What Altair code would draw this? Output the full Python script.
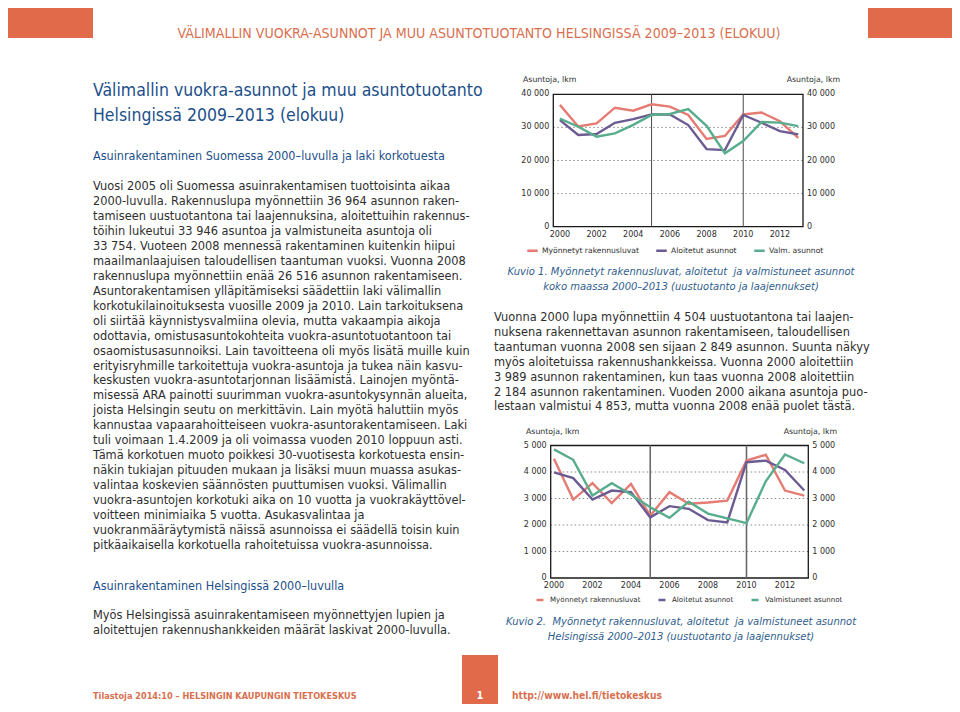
import altair as alt
import pandas as pd

# ---------------- data ----------------
years = list(range(2000, 2014))

fin_series = ["Myönnetyt rakennusluvat", "Aloitetut asunnot", "Valm. asunnot"]
fin_permits = [36800, 30300, 31200, 35950, 35050, 36964, 36300, 33750, 26516, 27400, 33900, 34500, 31850, 26850]
fin_started = [32200, 27700, 28000, 31400, 32500, 33946, 33900, 30700, 23450, 23150, 33750, 31400, 28850, 27900]
fin_completed = [32650, 30200, 27200, 28200, 30750, 33754, 34050, 35550, 30450, 22200, 25900, 31650, 31450, 30400]

hki_series = ["Myönnetyt rakennusluvat", "Aloitetut asunnot", "Valmistuneet asunnot"]
hki_permits = [4504, 2960, 3580, 2830, 3550, 2350, 3240, 2800, 2849, 2920, 4430, 4650, 3300, 3110]
hki_started = [3989, 3770, 2960, 3300, 3240, 2290, 2710, 2610, 2184, 2100, 4370, 4430, 4080, 3300]
hki_completed = [4853, 4460, 3110, 3580, 3150, 2670, 2270, 2880, 2430, 2250, 2070, 3650, 4660, 4330]

fin_grid = [10000, 20000, 30000]
fin_yticks = [0, 10000, 20000, 30000, 40000]
fin_ylabels = ["0", "10 000", "20 000", "30 000", "40 000"]
hki_grid = [1000, 2000, 3000, 4000]
hki_yticks = [0, 1000, 2000, 3000, 4000, 5000]
hki_ylabels = ["0", "1 000", "2 000", "3 000", "4 000", "5 000"]
xticks = [2000, 2002, 2004, 2006, 2008, 2010, 2012]
xlabels = ["2000", "2002", "2004", "2006", "2008", "2010", "2012"]
markers = [2005, 2010]
line_colors = ["#e57b72", "#6c5b93", "#58ad8c"]

header = "VÄLIMALLIN VUOKRA-ASUNNOT JA MUU ASUNTOTUOTANTO HELSINGISSÄ 2009–2013 (ELOKUU)"
title_lines = ["Välimallin vuokra-asunnot ja muu asuntotuotanto", "Helsingissä 2009–2013 (elokuu)"]
subtitle1 = "Asuinrakentaminen Suomessa 2000–luvulla ja laki korkotuesta"
body_left = [
    "Vuosi 2005 oli Suomessa asuinrakentamisen tuottoisinta aikaa",
    "2000-luvulla. Rakennuslupa myönnettiin 36 964 asunnon raken-",
    "tamiseen uustuotantona tai laajennuksina, aloitettuihin rakennus-",
    "töihin lukeutui 33 946 asuntoa ja valmistuneita asuntoja oli",
    "33 754. Vuoteen 2008 mennessä rakentaminen kuitenkin hiipui",
    "maailmanlaajuisen taloudellisen taantuman vuoksi. Vuonna 2008",
    "rakennuslupa myönnettiin enää 26 516 asunnon rakentamiseen.",
    "\u00a0\u00a0\u00a0\u00a0Asuntorakentamisen ylläpitämiseksi säädettiin laki välimallin",
    "korkotukilainoituksesta vuosille 2009 ja 2010. Lain tarkoituksena",
    "oli siirtää käynnistysvalmiina olevia, mutta vakaampia aikoja",
    "odottavia, omistusasuntokohteita vuokra-asuntotuotantoon tai",
    "osaomistusasunnoiksi. Lain tavoitteena oli myös lisätä muille kuin",
    "erityisryhmille tarkoitettuja vuokra-asuntoja ja tukea näin kasvu-",
    "keskusten vuokra-asuntotarjonnan lisäämistä. Lainojen myöntä-",
    "misessä ARA painotti suurimman vuokra-asuntokysynnän alueita,",
    "joista Helsingin seutu on merkittävin. Lain myötä haluttiin myös",
    "kannustaa vapaarahoitteiseen vuokra-asuntorakentamiseen. Laki",
    "tuli voimaan 1.4.2009 ja oli voimassa vuoden 2010 loppuun asti.",
    "Tämä korkotuen muoto poikkesi 30-vuotisesta korkotuesta ensin-",
    "näkin tukiajan pituuden mukaan ja lisäksi muun muassa asukas-",
    "valintaa koskevien säännösten puuttumisen vuoksi. Välimallin",
    "vuokra-asuntojen korkotuki aika on 10 vuotta ja vuokrakäyttövel-",
    "voitteen minimiaika 5 vuotta. Asukasvalintaa ja",
    "vuokranmääräytymistä näissä asunnoissa ei säädellä toisin kuin",
    "pitkäaikaisella korkotuella rahoitetuissa vuokra-asunnoissa.",
]
subtitle2 = "Asuinrakentaminen Helsingissä 2000–luvulla"
body_left2 = [
    "Myös Helsingissä asuinrakentamiseen myönnettyjen lupien ja",
    "aloitettujen rakennushankkeiden määrät laskivat 2000-luvulla.",
]
caption1 = [
    "Kuvio 1. Myönnetyt rakennusluvat, aloitetut\u00a0 ja valmistuneet asunnot",
    "koko maassa 2000–2013 (uustuotanto ja laajennukset)",
]
body_right = [
    "Vuonna 2000 lupa myönnettiin 4 504 uustuotantona tai laajen-",
    "nuksena rakennettavan asunnon rakentamiseen, taloudellisen",
    "taantuman vuonna 2008 sen sijaan 2 849 asunnon. Suunta näkyy",
    "myös aloitetuissa rakennushankkeissa. Vuonna 2000 aloitettiin",
    "3 989 asunnon rakentaminen, kun taas vuonna 2008 aloitettiin",
    "2 184 asunnon rakentaminen. Vuoden 2000 aikana asuntoja puo-",
    "lestaan valmistui 4 853, mutta vuonna 2008 enää puolet tästä.",
]
caption2 = [
    "Kuvio 2.\u00a0 Myönnetyt rakennusluvat, aloitetut\u00a0 ja valmistuneet asunnot",
    "Helsingissä 2000–2013 (uustuotanto ja laajennukset)",
]
axis_title = "Asuntoja, lkm"
footer_left = "Tilastoja 2014:10  –  HELSINGIN KAUPUNGIN TIETOKESKUS"
footer_right = "http://www.hel.fi/tietokeskus"
page_no = "1"

# ---------------- styling helpers ----------------
FONT = "DejaVu Sans"
NARROW = "DejaVu Sans Condensed, Liberation Sans Narrow, sans-serif"
BLUE = "#1d4f8a"
ORANGE = "#e06a49"
ORANGE_TXT = "#d8704f"
TEXT = "#2e2e2e"
CAP = "#2f5e8e"
M = 8  # page margin
ONE = alt.Data(values=[{}])


def txt(lines, x, y, size, color=TEXT, font=FONT, align="left", baseline="alphabetic",
        weight="normal", style="normal", lh=None):
    kw = dict(text=lines, align=align, baseline=baseline, fontSize=size, font=font,
              color=color, fontWeight=weight, fontStyle=style)
    if lh:
        kw["lineHeight"] = lh
    return alt.Chart(ONE).mark_text(**kw).encode(x=alt.value(x - M), y=alt.value(y - M))


def block(x0, y0, x1, y1, color):
    return alt.Chart(ONE).mark_rect(color=color).encode(
        x=alt.value(x0 - M), x2=alt.value(x1 - M), y=alt.value(y0 - M), y2=alt.value(y1 - M))


def panel(series, vals, xdom, xrng, ydom, yrng, grid, yticks, ylabels,
          leg_x, leg_y, sym_size, col_pad, lab_off, leg_font, vcolor, vwidth,
          title_y, title_lx, title_rx):
    xs = alt.Scale(domain=xdom, range=[r - M for r in xrng], nice=False, zero=False)
    ys = alt.Scale(domain=ydom, range=[r - M for r in yrng], nice=False, zero=False)
    df = pd.DataFrame({
        "year": years * 3,
        "series": [s for s in series for _ in years],
        "value": vals[0] + vals[1] + vals[2],
    })
    gdf = pd.DataFrame({"v": grid, "x0": xdom[0], "x1": xdom[1]})
    fdf = pd.DataFrame({"x0": [xdom[0]], "x1": [xdom[1]], "y0": [ydom[0]], "y1": [ydom[1]]})
    vdf = pd.DataFrame({"yr": markers, "y0": ydom[0], "y1": ydom[1]})
    xdf = pd.DataFrame({"yr": xticks, "lab": xlabels, "y0": ydom[0]})
    ydf = pd.DataFrame({"v": yticks, "lab": ylabels, "xl": xdom[0], "xr": xdom[1]})

    X = lambda f: alt.X(f, scale=xs, axis=None)
    Y = lambda f: alt.Y(f, scale=ys, axis=None)

    gridl = alt.Chart(gdf).mark_rule(color="#8a8a8a", strokeWidth=1, strokeDash=[1.5, 2.5]).encode(
        x=X("x0:Q"), x2="x1:Q", y=Y("v:Q"))
    frame = alt.Chart(fdf).mark_rect(fillOpacity=0, stroke="#1a1a1a", strokeWidth=1.3).encode(
        x=X("x0:Q"), x2="x1:Q", y=Y("y0:Q"), y2="y1:Q")
    vlines = alt.Chart(vdf).mark_rule(color=vcolor, strokeWidth=vwidth).encode(
        x=X("yr:Q"), y=Y("y0:Q"), y2="y1:Q")
    lines = alt.Chart(df).mark_line(strokeWidth=2.4).encode(
        x=X("year:Q"), y=Y("value:Q"),
        color=alt.Color("series:N", scale=alt.Scale(domain=series, range=line_colors),
                        legend=alt.Legend(orient="none", legendX=leg_x - M, legendY=leg_y - M,
                                          direction="horizontal", title=None, symbolType="stroke",
                                          symbolStrokeWidth=2.5, symbolSize=sym_size,
                                          labelFont=FONT, labelFontSize=leg_font, labelColor=TEXT,
                                          columnPadding=col_pad, labelOffset=lab_off, padding=0)))
    xl = alt.Chart(xdf).mark_text(font=FONT, fontSize=8, color=TEXT, baseline="top", dy=4).encode(
        x=X("yr:Q"), y=Y("y0:Q"), text="lab:N")
    yl = alt.Chart(ydf).mark_text(font=FONT, fontSize=8, color=TEXT, align="right", baseline="middle", dx=-4).encode(
        x=X("xl:Q"), y=Y("v:Q"), text="lab:N")
    yr = alt.Chart(ydf).mark_text(font=FONT, fontSize=8, color=TEXT, align="left", baseline="middle", dx=4).encode(
        x=X("xr:Q"), y=Y("v:Q"), text="lab:N")
    t1 = txt(axis_title, title_lx, title_y, 7.8, align="left", baseline="middle")
    t2 = txt(axis_title, title_rx, title_y, 7.8, align="right", baseline="middle")
    return [gridl, frame, vlines, lines, xl, yl, yr, t1, t2]


layers = []
# header / footer blocks
layers += [block(5, 3, 93, 38, ORANGE), block(868, 3, 956, 38, ORANGE), block(462, 655, 498, 708, ORANGE)]
layers.append(txt(header, 479, 38, 14.1, color=ORANGE_TXT, font=NARROW, align="center"))
layers.append(txt(title_lines, 93, 96, 17.5, color=BLUE, font=NARROW, lh=25))
layers.append(txt(subtitle1, 93, 160, 12.5, color=BLUE, font=NARROW))
layers.append(txt(body_left, 93, 190, 11.4, lh=14.96))
layers.append(txt(subtitle2, 93, 590, 12.5, color=BLUE, font=NARROW))
layers.append(txt(body_left2, 93, 619, 11.4, lh=15))
layers.append(txt(caption1, 681, 275, 10, color=CAP, align="center", style="italic", lh=14.5))
layers.append(txt(body_right, 494, 321, 11.4, lh=14.9))
layers.append(txt(caption2, 681, 625, 10, color=CAP, align="center", style="italic", lh=14.5))
layers.append(txt(footer_left, 93, 699, 9.1, color=ORANGE_TXT, font=NARROW, weight="bold"))
layers.append(txt(footer_right, 512, 699, 10.2, color=ORANGE_TXT, font=NARROW, weight="bold"))
layers.append(txt(page_no, 480, 699, 11, color="white", font=NARROW, weight="bold", align="center"))

# chart 1: whole country
layers += panel(fin_series, [fin_permits, fin_started, fin_completed],
                [1999.64, 2013.26], [553.3, 803], [0, 40000], [226.7, 94.3],
                fin_grid, fin_yticks, fin_ylabels,
                526, 244, 110, 12, 3, 7.6, "#4a4a4a", 1, 80, 523, 840)
# chart 2: Helsinki
layers += panel(hki_series, [hki_permits, hki_started, hki_completed],
                [1999.83, 2013.21], [550.7, 808.3], [0, 5000], [578, 445.5],
                hki_grid, hki_yticks, hki_ylabels,
                535, 595, 49, 12, 5, 7.1, "#6a6a6a", 1.6, 432, 526, 837)

chart = alt.layer(*layers).resolve_scale(
    x="independent", y="independent", color="independent"
).properties(
    width=944, height=696, padding=0, background="white",
    autosize=alt.AutoSizeParams(type="none"),
).configure_view(stroke=None)

chart.save("out.html", embed_options={"renderer": "svg", "actions": False})
